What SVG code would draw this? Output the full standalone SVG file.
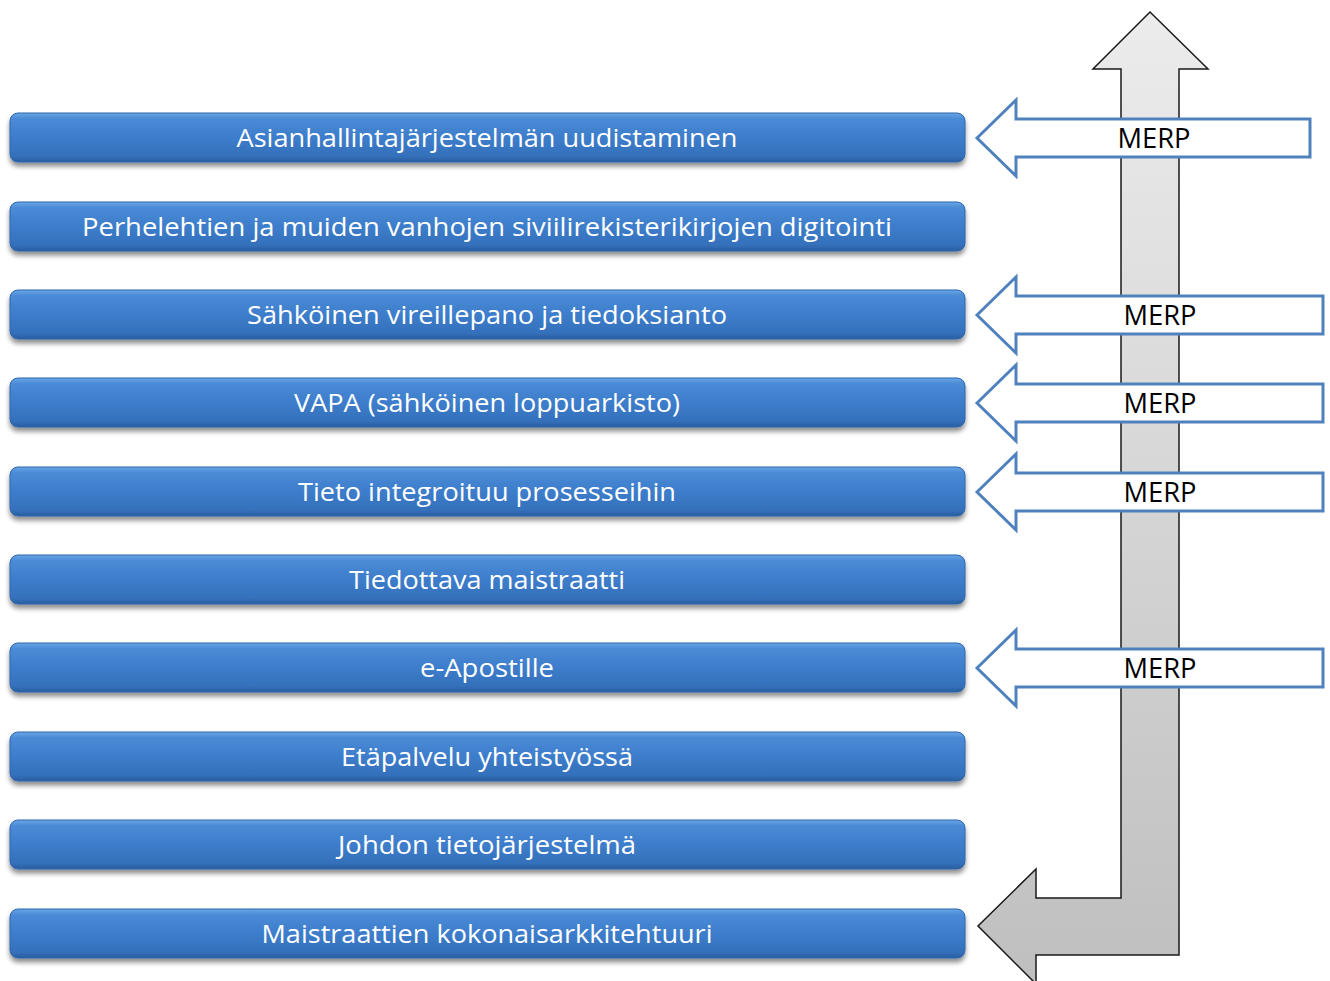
<svg xmlns="http://www.w3.org/2000/svg" width="1330" height="981" viewBox="0 0 1330 981">
<defs>
<linearGradient id="barG" x1="0" y1="0" x2="0" y2="1">
<stop offset="0" stop-color="#6aa6e6"/>
<stop offset="0.12" stop-color="#4a8ad6"/>
<stop offset="0.5" stop-color="#3d7dcb"/>
<stop offset="0.88" stop-color="#3470bb"/>
<stop offset="1" stop-color="#2a5d9f"/>
</linearGradient>
<linearGradient id="grayG" gradientUnits="userSpaceOnUse" x1="0" y1="12" x2="0" y2="983">
<stop offset="0" stop-color="#ececec"/>
<stop offset="1" stop-color="#bfbfbf"/>
</linearGradient>
<filter id="sh" x="-5%" y="-30%" width="110%" height="180%">
<feGaussianBlur in="SourceAlpha" stdDeviation="2.5"/>
<feOffset dx="0" dy="4" result="b"/>
<feComponentTransfer><feFuncA type="linear" slope="0.45"/></feComponentTransfer>
<feMerge><feMergeNode/><feMergeNode in="SourceGraphic"/></feMerge>
</filter>
</defs>
<style>
.bar{fill:url(#barG);stroke:#2f67ad;stroke-width:1;filter:url(#sh)}
.bt{font-family:"Open Sans","Liberation Sans",sans-serif;font-size:26px;fill:#ffffff;text-anchor:middle}
.merp{fill:#ffffff;stroke:#4f81bd;stroke-width:3}
.mt{font-family:"Open Sans","Liberation Sans",sans-serif;font-size:27px;fill:#000000;text-anchor:middle}
.gray{fill:url(#grayG);stroke:#1a1a1a;stroke-width:1.5;stroke-linejoin:miter}
</style>
<rect width="1330" height="981" fill="#ffffff"/>
<g id="connectors">
<path class="gray" d="M1150,12 L1208,69 L1179,69 L1179,955 L1036,955 L1036,984 L978,926 L1036,869 L1036,898 L1121,898 L1121,69 L1093,69 Z"/>
</g>
<g id="n1"><rect class="bar" x="10" y="113" width="955" height="49" rx="8"/><text class="bt" x="487" y="147" textLength="501" lengthAdjust="spacingAndGlyphs">Asianhallintajärjestelmän uudistaminen</text></g>
<g id="n2"><rect class="bar" x="10" y="202" width="955" height="49" rx="8"/><text class="bt" x="487" y="236" textLength="810" lengthAdjust="spacingAndGlyphs">Perhelehtien ja muiden vanhojen siviilirekisterikirjojen digitointi</text></g>
<g id="n3"><rect class="bar" x="10" y="290" width="955" height="49" rx="8"/><text class="bt" x="487" y="324" textLength="480" lengthAdjust="spacingAndGlyphs">Sähköinen vireillepano ja tiedoksianto</text></g>
<g id="n4"><rect class="bar" x="10" y="378" width="955" height="49" rx="8"/><text class="bt" x="487" y="412" textLength="386" lengthAdjust="spacingAndGlyphs">VAPA (sähköinen loppuarkisto)</text></g>
<g id="n5"><rect class="bar" x="10" y="467" width="955" height="49" rx="8"/><text class="bt" x="487" y="501" textLength="378" lengthAdjust="spacingAndGlyphs">Tieto integroituu prosesseihin</text></g>
<g id="n6"><rect class="bar" x="10" y="555" width="955" height="49" rx="8"/><text class="bt" x="487" y="589" textLength="276" lengthAdjust="spacingAndGlyphs">Tiedottava maistraatti</text></g>
<g id="n7"><rect class="bar" x="10" y="643" width="955" height="49" rx="8"/><text class="bt" x="487" y="677" textLength="134" lengthAdjust="spacingAndGlyphs">e-Apostille</text></g>
<g id="n8"><rect class="bar" x="10" y="732" width="955" height="49" rx="8"/><text class="bt" x="487" y="766" textLength="292" lengthAdjust="spacingAndGlyphs">Etäpalvelu yhteistyössä</text></g>
<g id="n9"><rect class="bar" x="10" y="820" width="955" height="49" rx="8"/><text class="bt" x="487" y="854" textLength="298" lengthAdjust="spacingAndGlyphs">Johdon tietojärjestelmä</text></g>
<g id="n10"><rect class="bar" x="10" y="909" width="955" height="49" rx="8"/><text class="bt" x="487" y="943" textLength="451" lengthAdjust="spacingAndGlyphs">Maistraattien kokonaisarkkitehtuuri</text></g>
<g id="m1"><path class="merp" d="M977,138 L1016,100 L1016,119 L1310,119 L1310,157 L1016,157 L1016,176 Z"/><text class="mt" x="1154" y="148" textLength="73" lengthAdjust="spacingAndGlyphs">MERP</text></g>
<g id="m2"><path class="merp" d="M977,315 L1016,277 L1016,296 L1323,296 L1323,334 L1016,334 L1016,353 Z"/><text class="mt" x="1160" y="325" textLength="73" lengthAdjust="spacingAndGlyphs">MERP</text></g>
<g id="m3"><path class="merp" d="M977,403 L1016,365 L1016,384 L1323,384 L1323,422 L1016,422 L1016,441 Z"/><text class="mt" x="1160" y="413" textLength="73" lengthAdjust="spacingAndGlyphs">MERP</text></g>
<g id="m4"><path class="merp" d="M977,492 L1016,454 L1016,473 L1323,473 L1323,511 L1016,511 L1016,530 Z"/><text class="mt" x="1160" y="502" textLength="73" lengthAdjust="spacingAndGlyphs">MERP</text></g>
<g id="m5"><path class="merp" d="M977,668 L1016,630 L1016,649 L1323,649 L1323,687 L1016,687 L1016,706 Z"/><text class="mt" x="1160" y="678" textLength="73" lengthAdjust="spacingAndGlyphs">MERP</text></g>
</svg>
